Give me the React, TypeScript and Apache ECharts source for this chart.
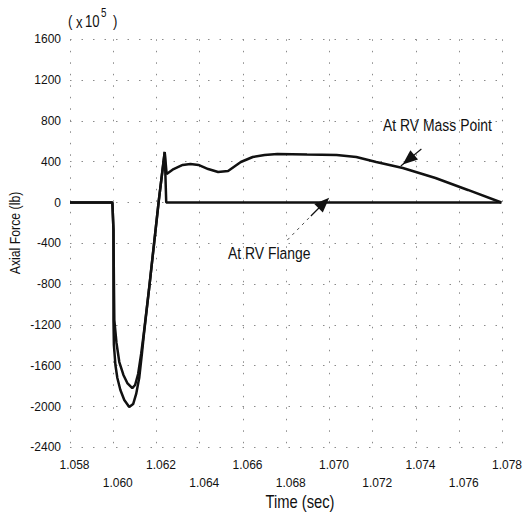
import React, { useEffect, useRef } from "react";
import * as echarts from "echarts";

// ---- data ----
const massTime = [
  1.058, 1.05996, 1.06001, 1.06003, 1.06005, 1.06015, 1.06028, 1.06047, 1.06065,
  1.06088, 1.06101, 1.06115, 1.06129, 1.06142, 1.06165, 1.06188, 1.06211, 1.06238,
  1.06247, 1.06279, 1.06321, 1.06357, 1.06394, 1.06439, 1.06485, 1.06531, 1.0659,
  1.06645, 1.067, 1.06759, 1.06896, 1.07033, 1.07124, 1.07216, 1.07339, 1.0749,
  1.0764, 1.07795,
];
const massForce = [
  0, 0, -270, -760, -1152, -1377, -1564, -1691, -1770,
  -1819, -1789, -1681, -1485, -1270, -858, -417, 25, 495,
  279, 328, 368, 377, 368, 328, 299, 309, 397,
  446, 466, 475, 470, 466, 446, 397, 338, 240,
  123, 0,
];
const flangeTime = [
  1.058, 1.05996, 1.06001, 1.06001, 1.06001, 1.06003, 1.0601, 1.06019, 1.06033,
  1.06051, 1.06074, 1.06092, 1.06106, 1.0612, 1.06133, 1.06142, 1.06165, 1.06188,
  1.06211, 1.06238, 1.06245, 1.07795,
];
const flangeForce = [
  0, 0, -270, -760, -1152, -1397, -1593, -1721, -1838,
  -1936, -2005, -1976, -1877, -1721, -1475, -1289, -858, -417,
  25, 495, 0, 0,
];
const xTicks = { min: 1.058, max: 1.078, step: 0.002 };
const yTicks = { min: -2400, max: 1600, step: 400 };
const massArrow = [
  [1.07425, 525],
  [1.07365, 420],
  [1.0733, 358],
];
const flangeArrow = [
  [1.06805, -368],
  [1.06914, -132],
  [1.06974, -5],
];
const labels = {
  mass: "At RV Mass Point",
  flange: "At RV Flange",
  xName: "Time (sec)",
  yName: "Axial Force (lb)",
};

const FONT = '"Liberation Sans", Arial, sans-serif';
const INK = "#111";
const NARROW = 0.82;

export default function App() {
  const ref = useRef<HTMLDivElement>(null);
  useEffect(() => {
    document.body.style.margin = "0";
    const chart = echarts.init(ref.current!, undefined, { renderer: "svg" });
    const toPairs = (t: number[], v: number[]) => t.map((x, i) => [x, v[i]]);
    const gridLine = { show: true, lineStyle: { color: "#8a8a8a", width: 1, type: [1.5, 10] as any } };
    const txt = (text: string, x: number, y: number, size: number, extra: any = {}) => ({
      type: "text",
      x,
      y,
      scaleX: NARROW,
      style: { text, fontFamily: FONT, fontSize: size, fill: INK, verticalAlign: "middle", ...extra },
    });
    chart.setOption({
      animation: false,
      backgroundColor: "#fff",
      grid: { left: 70, right: 17, top: 39.3, bottom: 72.7 },
      xAxis: {
        type: "value",
        min: xTicks.min,
        max: xTicks.max,
        interval: xTicks.step,
        axisLine: { show: false },
        axisTick: { show: false },
        splitLine: gridLine,
        axisLabel: {
          color: INK,
          fontFamily: FONT,
          fontSize: 12,
          margin: 9,
          lineHeight: 18,
          padding: [0, 0, 0, 9],
          showMinLabel: true,
          showMaxLabel: true,
          hideOverlap: false,
          formatter: (v: number) => {
            const k = Math.round((v - xTicks.min) / xTicks.step);
            const s = v.toFixed(3);
            return k % 2 === 0 ? s : "\n" + s;
          },
        },
      },
      yAxis: {
        type: "value",
        min: yTicks.min,
        max: yTicks.max,
        interval: yTicks.step,
        axisLine: { show: false },
        axisTick: { show: false },
        splitLine: gridLine,
        axisLabel: {
          color: INK,
          fontFamily: FONT,
          fontSize: 12,
          margin: 9,
          padding: [6, 0, 0, 0],
          formatter: (v: number) => String(v),
        },
      },
      graphic: [
        {
          type: "text",
          x: 15,
          y: 233,
          rotation: Math.PI / 2,
          scaleX: NARROW,
          style: {
            text: labels.yName,
            fontFamily: FONT,
            fontSize: 15,
            fill: INK,
            align: "center",
            verticalAlign: "middle",
          },
        },
        txt(labels.xName, 300, 501, 18, { align: "center" }),
        txt("(", 68, 22, 16),
        txt("x", 76, 23, 16),
        txt("10", 85, 22, 16),
        txt("5", 101, 13, 12),
        txt(")", 113, 22, 16),
        txt(labels.mass, 383, 125, 17),
        txt(labels.flange, 228, 253, 17),
      ],
      series: [
        {
          name: "At RV Mass Point",
          type: "line",
          data: toPairs(massTime, massForce),
          showSymbol: false,
          lineStyle: { color: INK, width: 2.5 },
          markLine: {
            silent: true,
            label: { show: false },
            data: [
              [
                { coord: massArrow[0], symbol: "none" },
                { coord: massArrow[1], symbol: "triangle", symbolSize: [12, 15] },
              ],
              [
                { coord: massArrow[1], symbol: "none" },
                { coord: massArrow[2], symbol: "none" },
              ],
            ],
            lineStyle: { color: INK, width: 1.2, type: "solid" },
          },
        },
        {
          name: "At RV Flange",
          type: "line",
          data: toPairs(flangeTime, flangeForce),
          showSymbol: false,
          lineStyle: { color: INK, width: 2.5 },
          markLine: {
            silent: true,
            label: { show: false },
            data: [
              [
                { coord: flangeArrow[0], symbol: "none", lineStyle: { type: [3, 4], color: "#555", width: 1 } },
                { coord: flangeArrow[1], symbol: "none" },
              ],
              [
                { coord: flangeArrow[1], symbol: "none" },
                { coord: flangeArrow[2], symbol: "triangle", symbolSize: [12, 15] },
              ],
            ],
            lineStyle: { color: INK, width: 1.2, type: "solid" },
          },
        },
      ],
    });
    return () => chart.dispose();
  }, []);
  return <div ref={ref} style={{ width: 525, height: 520 }} />;
}
